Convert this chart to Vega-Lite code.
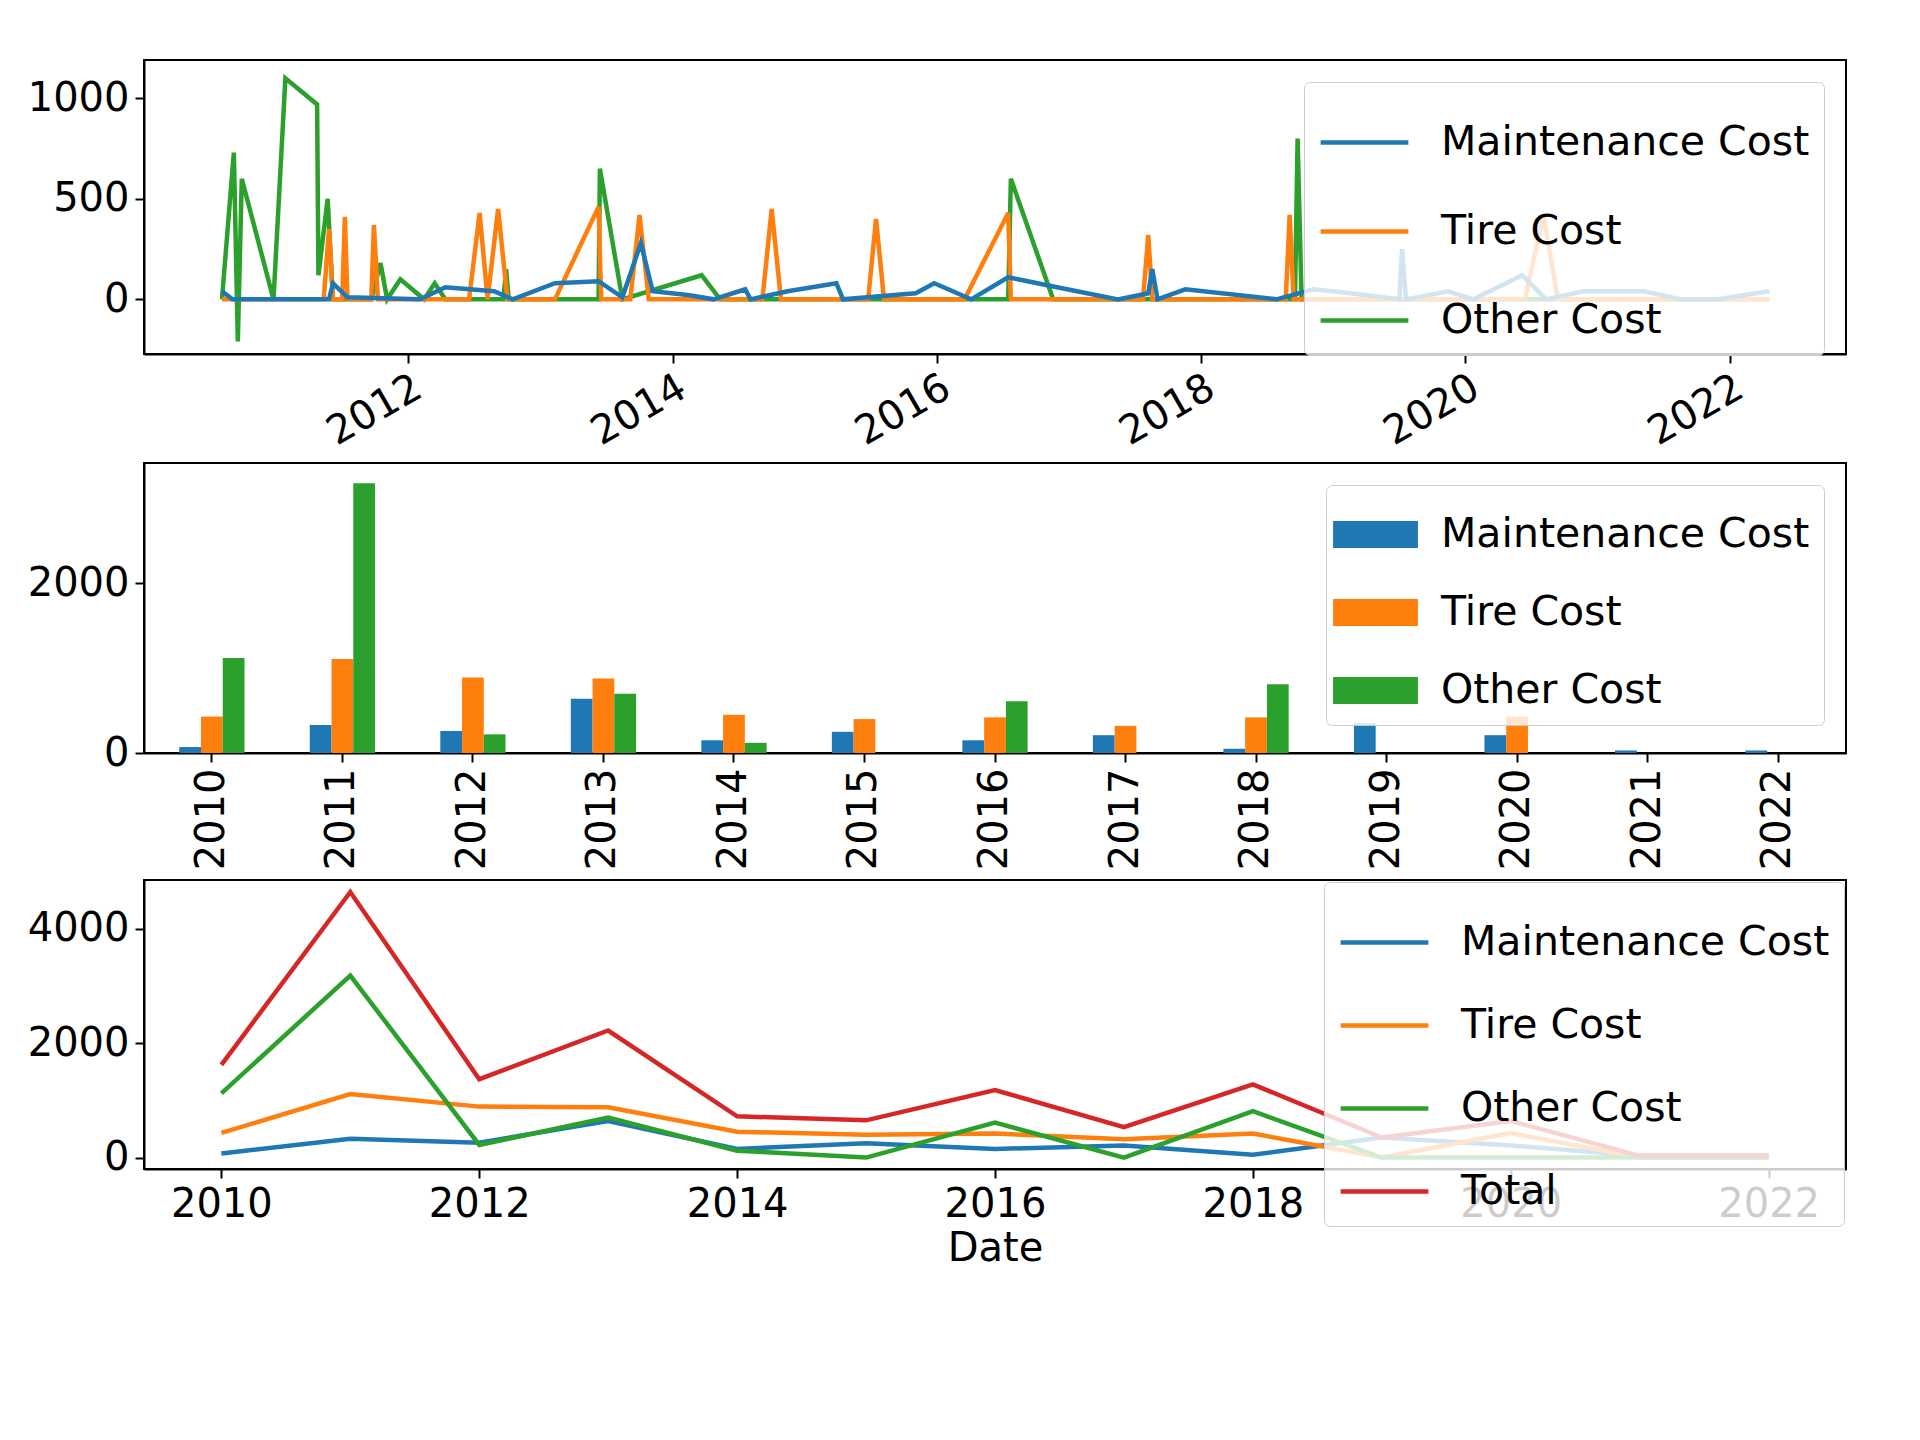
{
  "$schema": "https://vega.github.io/schema/vega-lite/v6.json",
  "background": "white",
  "padding": {"left": 26, "top": 59, "right": 50, "bottom": 10},
  "spacing": 8,
  "config": {
    "font": "DejaVu Sans",
    "view": {"stroke": "black", "strokeWidth": 2},
    "axis": {"labelFontSize": 40, "titleFontSize": 40, "labelColor": "black", "titleColor": "black", "domainColor": "black", "tickColor": "black", "tickSize": 9, "tickWidth": 2, "domainWidth": 2, "grid": false, "labelPadding": 6, "titleFontWeight": "normal", "format": "d"},
    "legend": {"orient": "top-right", "offset": 22, "labelFontSize": 41, "labelColor": "black", "fillColor": "rgba(255,255,255,0.8)", "strokeColor": "#cccccc", "cornerRadius": 6, "padding": 14, "rowPadding": 22, "symbolSize": 7700, "symbolStrokeWidth": 4.5, "labelOffset": 30, "labelLimit": 600}
  },
  "datasets": {
    "daily": [
      {"t": 2010.59, "s": "Other Cost", "v": 0}, {"t": 2010.68, "s": "Other Cost", "v": 730}, {"t": 2010.71, "s": "Other Cost", "v": -210}, {"t": 2010.74, "s": "Other Cost", "v": 600}, {"t": 2010.98, "s": "Other Cost", "v": 0}, {"t": 2011.07, "s": "Other Cost", "v": 1100}, {"t": 2011.31, "s": "Other Cost", "v": 970}, {"t": 2011.32, "s": "Other Cost", "v": 120}, {"t": 2011.39, "s": "Other Cost", "v": 500}, {"t": 2011.43, "s": "Other Cost", "v": 0}, {"t": 2011.72, "s": "Other Cost", "v": 0}, {"t": 2011.79, "s": "Other Cost", "v": 180}, {"t": 2011.84, "s": "Other Cost", "v": 0}, {"t": 2011.94, "s": "Other Cost", "v": 100}, {"t": 2012.12, "s": "Other Cost", "v": 0}, {"t": 2012.2, "s": "Other Cost", "v": 80}, {"t": 2012.28, "s": "Other Cost", "v": 0}, {"t": 2012.72, "s": "Other Cost", "v": 0}, {"t": 2012.74, "s": "Other Cost", "v": 150}, {"t": 2012.76, "s": "Other Cost", "v": 0}, {"t": 2013.44, "s": "Other Cost", "v": 0}, {"t": 2013.45, "s": "Other Cost", "v": 650}, {"t": 2013.62, "s": "Other Cost", "v": 0}, {"t": 2014.22, "s": "Other Cost", "v": 120}, {"t": 2014.36, "s": "Other Cost", "v": 0}, {"t": 2016.54, "s": "Other Cost", "v": 0}, {"t": 2016.56, "s": "Other Cost", "v": 600}, {"t": 2016.88, "s": "Other Cost", "v": 0}, {"t": 2018.71, "s": "Other Cost", "v": 0}, {"t": 2018.73, "s": "Other Cost", "v": 800}, {"t": 2018.76, "s": "Other Cost", "v": 0}, {"t": 2022.3, "s": "Other Cost", "v": 0},
      {"t": 2010.59, "s": "Tire Cost", "v": 0}, {"t": 2011.36, "s": "Tire Cost", "v": 0}, {"t": 2011.4, "s": "Tire Cost", "v": 350}, {"t": 2011.43, "s": "Tire Cost", "v": 0}, {"t": 2011.5, "s": "Tire Cost", "v": 0}, {"t": 2011.52, "s": "Tire Cost", "v": 410}, {"t": 2011.54, "s": "Tire Cost", "v": 0}, {"t": 2011.72, "s": "Tire Cost", "v": 0}, {"t": 2011.74, "s": "Tire Cost", "v": 370}, {"t": 2011.77, "s": "Tire Cost", "v": 0}, {"t": 2012.46, "s": "Tire Cost", "v": 0}, {"t": 2012.54, "s": "Tire Cost", "v": 430}, {"t": 2012.6, "s": "Tire Cost", "v": 0}, {"t": 2012.68, "s": "Tire Cost", "v": 450}, {"t": 2012.75, "s": "Tire Cost", "v": 0}, {"t": 2013.11, "s": "Tire Cost", "v": 0}, {"t": 2013.44, "s": "Tire Cost", "v": 460}, {"t": 2013.46, "s": "Tire Cost", "v": 0}, {"t": 2013.68, "s": "Tire Cost", "v": 0}, {"t": 2013.75, "s": "Tire Cost", "v": 420}, {"t": 2013.82, "s": "Tire Cost", "v": 0}, {"t": 2014.68, "s": "Tire Cost", "v": 0}, {"t": 2014.75, "s": "Tire Cost", "v": 450}, {"t": 2014.82, "s": "Tire Cost", "v": 0}, {"t": 2015.48, "s": "Tire Cost", "v": 0}, {"t": 2015.54, "s": "Tire Cost", "v": 400}, {"t": 2015.6, "s": "Tire Cost", "v": 0}, {"t": 2016.21, "s": "Tire Cost", "v": 0}, {"t": 2016.54, "s": "Tire Cost", "v": 430}, {"t": 2016.56, "s": "Tire Cost", "v": 0}, {"t": 2017.56, "s": "Tire Cost", "v": 0}, {"t": 2017.6, "s": "Tire Cost", "v": 320}, {"t": 2017.63, "s": "Tire Cost", "v": 0}, {"t": 2018.64, "s": "Tire Cost", "v": 0}, {"t": 2018.67, "s": "Tire Cost", "v": 420}, {"t": 2018.7, "s": "Tire Cost", "v": 0}, {"t": 2020.45, "s": "Tire Cost", "v": 0}, {"t": 2020.59, "s": "Tire Cost", "v": 420}, {"t": 2020.7, "s": "Tire Cost", "v": 0}, {"t": 2022.3, "s": "Tire Cost", "v": 0},
      {"t": 2010.59, "s": "Maintenance Cost", "v": 40}, {"t": 2010.67, "s": "Maintenance Cost", "v": 0}, {"t": 2011.4, "s": "Maintenance Cost", "v": 0}, {"t": 2011.43, "s": "Maintenance Cost", "v": 80}, {"t": 2011.54, "s": "Maintenance Cost", "v": 10}, {"t": 2012.09, "s": "Maintenance Cost", "v": 0}, {"t": 2012.28, "s": "Maintenance Cost", "v": 60}, {"t": 2012.65, "s": "Maintenance Cost", "v": 40}, {"t": 2012.79, "s": "Maintenance Cost", "v": 0}, {"t": 2013.11, "s": "Maintenance Cost", "v": 80}, {"t": 2013.44, "s": "Maintenance Cost", "v": 90}, {"t": 2013.62, "s": "Maintenance Cost", "v": 10}, {"t": 2013.76, "s": "Maintenance Cost", "v": 280}, {"t": 2013.85, "s": "Maintenance Cost", "v": 40}, {"t": 2014.13, "s": "Maintenance Cost", "v": 20}, {"t": 2014.31, "s": "Maintenance Cost", "v": 0}, {"t": 2014.55, "s": "Maintenance Cost", "v": 50}, {"t": 2014.59, "s": "Maintenance Cost", "v": 0}, {"t": 2014.87, "s": "Maintenance Cost", "v": 40}, {"t": 2015.24, "s": "Maintenance Cost", "v": 80}, {"t": 2015.29, "s": "Maintenance Cost", "v": 0}, {"t": 2015.84, "s": "Maintenance Cost", "v": 30}, {"t": 2015.98, "s": "Maintenance Cost", "v": 80}, {"t": 2016.26, "s": "Maintenance Cost", "v": 0}, {"t": 2016.54, "s": "Maintenance Cost", "v": 110}, {"t": 2016.91, "s": "Maintenance Cost", "v": 60}, {"t": 2017.37, "s": "Maintenance Cost", "v": 0}, {"t": 2017.6, "s": "Maintenance Cost", "v": 30}, {"t": 2017.63, "s": "Maintenance Cost", "v": 150}, {"t": 2017.67, "s": "Maintenance Cost", "v": 0}, {"t": 2017.88, "s": "Maintenance Cost", "v": 50}, {"t": 2018.57, "s": "Maintenance Cost", "v": 0}, {"t": 2018.85, "s": "Maintenance Cost", "v": 50}, {"t": 2019.13, "s": "Maintenance Cost", "v": 30}, {"t": 2019.5, "s": "Maintenance Cost", "v": 0}, {"t": 2019.52, "s": "Maintenance Cost", "v": 250}, {"t": 2019.55, "s": "Maintenance Cost", "v": 0}, {"t": 2019.87, "s": "Maintenance Cost", "v": 40}, {"t": 2020.06, "s": "Maintenance Cost", "v": 0}, {"t": 2020.43, "s": "Maintenance Cost", "v": 120}, {"t": 2020.61, "s": "Maintenance Cost", "v": 0}, {"t": 2020.89, "s": "Maintenance Cost", "v": 40}, {"t": 2021.35, "s": "Maintenance Cost", "v": 40}, {"t": 2021.63, "s": "Maintenance Cost", "v": 0}, {"t": 2021.91, "s": "Maintenance Cost", "v": 0}, {"t": 2022.3, "s": "Maintenance Cost", "v": 40}
    ],
    "yearly": [
      {"y": 2010, "s": "Maintenance Cost", "v": 70}, {"y": 2010, "s": "Tire Cost", "v": 430}, {"y": 2010, "s": "Other Cost", "v": 1120}, {"y": 2010, "s": "Total", "v": 1620},
      {"y": 2011, "s": "Maintenance Cost", "v": 330}, {"y": 2011, "s": "Tire Cost", "v": 1110}, {"y": 2011, "s": "Other Cost", "v": 3180}, {"y": 2011, "s": "Total", "v": 4640},
      {"y": 2012, "s": "Maintenance Cost", "v": 260}, {"y": 2012, "s": "Tire Cost", "v": 890}, {"y": 2012, "s": "Other Cost", "v": 220}, {"y": 2012, "s": "Total", "v": 1370},
      {"y": 2013, "s": "Maintenance Cost", "v": 640}, {"y": 2013, "s": "Tire Cost", "v": 880}, {"y": 2013, "s": "Other Cost", "v": 700}, {"y": 2013, "s": "Total", "v": 2220},
      {"y": 2014, "s": "Maintenance Cost", "v": 150}, {"y": 2014, "s": "Tire Cost", "v": 450}, {"y": 2014, "s": "Other Cost", "v": 120}, {"y": 2014, "s": "Total", "v": 720},
      {"y": 2015, "s": "Maintenance Cost", "v": 250}, {"y": 2015, "s": "Tire Cost", "v": 400}, {"y": 2015, "s": "Other Cost", "v": 0}, {"y": 2015, "s": "Total", "v": 650},
      {"y": 2016, "s": "Maintenance Cost", "v": 150}, {"y": 2016, "s": "Tire Cost", "v": 420}, {"y": 2016, "s": "Other Cost", "v": 610}, {"y": 2016, "s": "Total", "v": 1180},
      {"y": 2017, "s": "Maintenance Cost", "v": 210}, {"y": 2017, "s": "Tire Cost", "v": 320}, {"y": 2017, "s": "Other Cost", "v": 0}, {"y": 2017, "s": "Total", "v": 530},
      {"y": 2018, "s": "Maintenance Cost", "v": 50}, {"y": 2018, "s": "Tire Cost", "v": 420}, {"y": 2018, "s": "Other Cost", "v": 810}, {"y": 2018, "s": "Total", "v": 1280},
      {"y": 2019, "s": "Maintenance Cost", "v": 350}, {"y": 2019, "s": "Tire Cost", "v": 0}, {"y": 2019, "s": "Other Cost", "v": 0}, {"y": 2019, "s": "Total", "v": 350},
      {"y": 2020, "s": "Maintenance Cost", "v": 210}, {"y": 2020, "s": "Tire Cost", "v": 430}, {"y": 2020, "s": "Other Cost", "v": 0}, {"y": 2020, "s": "Total", "v": 640},
      {"y": 2021, "s": "Maintenance Cost", "v": 30}, {"y": 2021, "s": "Tire Cost", "v": 0}, {"y": 2021, "s": "Other Cost", "v": 0}, {"y": 2021, "s": "Total", "v": 30},
      {"y": 2022, "s": "Maintenance Cost", "v": 30}, {"y": 2022, "s": "Tire Cost", "v": 0}, {"y": 2022, "s": "Other Cost", "v": 0}, {"y": 2022, "s": "Total", "v": 30}
    ]
  },
  "vconcat": [
    {
      "width": 1702, "height": 294,
      "data": {"name": "daily"},
      "mark": {"type": "line", "strokeWidth": 4.5, "clip": true},
      "encoding": {
        "x": {"field": "t", "type": "quantitative", "title": null, "scale": {"domain": [2010.0, 2022.88], "nice": false, "zero": false},
          "axis": {"values": [2012, 2014, 2016, 2018, 2020, 2022], "format": "d", "labelAngle": -30, "labelAlign": "right", "labelBaseline": "top", "labelPadding": 4}},
        "y": {"field": "v", "type": "quantitative", "title": null, "scale": {"domain": [-272, 1191], "nice": false}, "axis": {"values": [0, 500, 1000], "format": "d"}},
        "color": {"field": "s", "type": "nominal", "sort": ["Maintenance Cost", "Tire Cost", "Other Cost"], "scale": {"domain": ["Maintenance Cost", "Tire Cost", "Other Cost"], "range": ["#1f77b4", "#ff7f0e", "#2ca02c"]},
          "legend": {"title": null, "symbolType": "stroke"}},
        "order": {"field": "t", "type": "quantitative"}
      }
    },
    {
      "width": 1702, "height": 290,
      "data": {"name": "yearly"},
      "transform": [{"filter": "datum.s !== 'Total'"}],
      "mark": {"type": "bar"},
      "encoding": {
        "x": {"field": "y", "type": "ordinal", "title": null, "scale": {"paddingInner": 0.5, "paddingOuter": 0.27}, "axis": {"labelAngle": -90, "labelAlign": "right", "labelBaseline": "middle"}},
        "xOffset": {"field": "s", "type": "nominal", "sort": ["Maintenance Cost", "Tire Cost", "Other Cost"]},
        "y": {"field": "v", "type": "quantitative", "title": null, "scale": {"domain": [0, 3420], "nice": false}, "axis": {"values": [0, 2000], "format": "d"}},
        "color": {"field": "s", "type": "nominal", "sort": ["Maintenance Cost", "Tire Cost", "Other Cost"], "scale": {"domain": ["Maintenance Cost", "Tire Cost", "Other Cost"], "range": ["#1f77b4", "#ff7f0e", "#2ca02c"]},
          "legend": {"title": null, "symbolType": "M-1.2,-0.38H1.2V0.38H-1.2Z", "symbolSize": 5000, "symbolStrokeWidth": 0}}
      }
    },
    {
      "width": 1702, "height": 289,
      "data": {"name": "yearly"},
      "mark": {"type": "line", "strokeWidth": 4.5},
      "encoding": {
        "x": {"field": "y", "type": "quantitative", "title": "Date", "scale": {"domain": [2009.4, 2022.6], "nice": false, "zero": false}, "axis": {"values": [2010, 2012, 2014, 2016, 2018, 2020, 2022], "format": "d"}},
        "y": {"field": "v", "type": "quantitative", "title": null, "scale": {"domain": [-200, 4850], "nice": false}, "axis": {"values": [0, 2000, 4000], "format": "d"}},
        "color": {"field": "s", "type": "nominal", "sort": ["Maintenance Cost", "Tire Cost", "Other Cost", "Total"], "scale": {"domain": ["Maintenance Cost", "Tire Cost", "Other Cost", "Total"], "range": ["#1f77b4", "#ff7f0e", "#2ca02c", "#d62728"]},
          "legend": {"title": null, "symbolType": "stroke", "rowPadding": 16, "offset": 2}}
      }
    }
  ],
  "resolve": {"scale": {"color": "independent"}, "legend": {"color": "independent"}}
}
